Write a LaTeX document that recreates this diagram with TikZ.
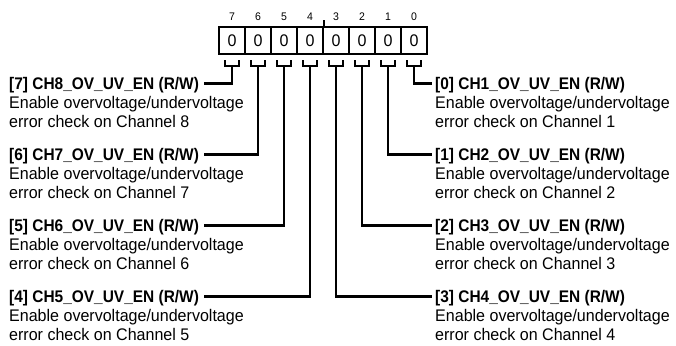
\documentclass[tikz,border=0pt]{standalone}
\usepackage{fontspec}
\setmainfont[FakeStretch=0.955,BoldFeatures={FakeStretch=0.92}]{Liberation Sans}
\usetikzlibrary{calc}
\begin{document}
\begin{tikzpicture}[x=1pt,y=-1pt,
  cell/.style={draw,line width=2pt,minimum width=26pt,minimum height=27pt,inner sep=0pt,font=\fontsize{16.8}{19}\selectfont},
  bitnum/.style={inner sep=0pt,font=\fontsize{11}{12}\selectfont},
  conn/.style={line width=2.1pt},
  ttl/.style={anchor=base west,inner sep=0pt,font=\fontsize{16.8}{19}\selectfont\bfseries},
  desc/.style={anchor=base west,inner sep=0pt,font=\fontsize{16.8}{19}\selectfont}]
\useasboundingbox (0,0) rectangle (676,345);
% register cells
\foreach \k in {0,...,7}{
  \node[cell] (c\k) at ({232+26*(7-\k)},40.5) {0};
  \node[bitnum] (n\k) at ({232+26*(7-\k)},16.5) {\k};
  \draw[conn] ($(c\k.south)+(-7,5)$) -- ($(c\k.south)+(-7,11)$) -- ($(c\k.south)+(7,11)$) -- ($(c\k.south)+(7,5)$);
  \coordinate (s\k) at ($(c\k.south)+(0,11)$);
}
\draw[conn] (c4.north east) -- ++(0,-6);
% left labels (bits 7..4)
\foreach \k/\ch [evaluate=\k as \r using int(7-\k)] in {7/8,6/7,5/6,4/5}{
  \node[ttl] (t\k) at (9,{89+71*\r}) {[\k] CH\ch\_OV\_UV\_EN (R/W)};
  \node[desc] (da\k) at (9,{108+71*\r}) {Enable overvoltage/undervoltage};
  \node[desc] (db\k) at (9,{127+71*\r}) {error check on Channel \ch};
  \coordinate (e\k) at ($(t\k.base east)+(5,-5.5)$);
  \draw[conn] (s\k) |- (e\k);
}
% right labels (bits 0..3)
\foreach \k/\ch in {0/1,1/2,2/3,3/4}{
  \node[ttl] (t\k) at (435,{89+71*\k}) {[\k] CH\ch\_OV\_UV\_EN (R/W)};
  \node[desc] (da\k) at (435,{108+71*\k}) {Enable overvoltage/undervoltage};
  \node[desc] (db\k) at (435,{127+71*\k}) {error check on Channel \ch};
  \coordinate (e\k) at ($(t\k.base west)+(-3,-5.5)$);
  \draw[conn] (s\k) |- (e\k);
}
\end{tikzpicture}
\end{document}
